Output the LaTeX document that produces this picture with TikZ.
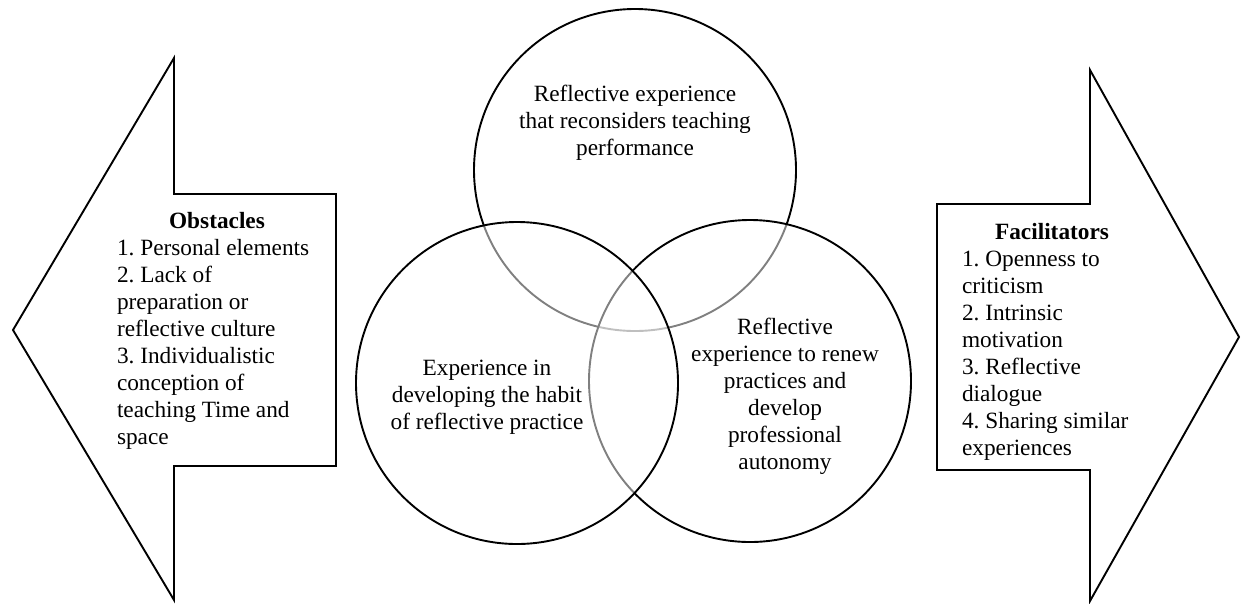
\documentclass[tikz,border=0pt]{standalone}
\usepackage{fontspec}
\setmainfont{Liberation Serif}
\tikzset{
  venn/.style={draw, circle, minimum size=322pt, inner sep=0pt, line width=1.9pt, fill=white, fill opacity=0.5},
  bigarrow/.style={draw, line width=1.9pt, line join=miter},
  venntext/.style={align=center, inner sep=0pt, font=\fontsize{23.3}{27}\selectfont\frenchspacing},
  listtext/.style={align=flush left, inner sep=0pt, font=\fontsize{23.3}{27}\selectfont\frenchspacing},
}
\begin{document}
\begin{tikzpicture}[x=1pt, y=-1pt]
    \useasboundingbox (0,0) rectangle (1241,603);

    % left arrow (obstacles)
    \draw[bigarrow] (336,194) -- (174,194) -- (174,58) -- (13,330) -- (174,600) -- (174,466) -- (336,466) -- cycle;
    % right arrow (facilitators)
    \draw[bigarrow] (937,204) -- (1090,204) -- (1090,70) -- (1239,337) -- (1090,601) -- (1090,470) -- (937,470) -- cycle;

    % the three circles, top first, left last
    \node[venn] at (635,170) (T) {};
    \node[venn] at (750,381) (R) {};
    \node[venn] at (517,383) (L) {};

    \node[venntext] at (635,123) (Ttext) {Reflective experience\\that reconsiders teaching\\performance};
    \node[venntext] at (487,397) (Ltext) {Experience in\\developing the habit\\of reflective practice};
    \node[venntext] at (785,396) (Rtext) {Reflective\\experience to renew\\practices and\\develop\\professional\\autonomy};

    \node[listtext, text width=200pt] at (217,331) (obst) {\hfill\textbf{Obstacles}\hfill\null\\1. Personal elements\\2. Lack of\\preparation or\\reflective culture\\3. Individualistic\\conception of\\teaching Time and\\space};
    \node[listtext, text width=180pt] at (1052,342) (facil) {\hfill\textbf{Facilitators}\hfill\null\\1. Openness to\\criticism\\2. Intrinsic\\motivation\\3. Reflective\\dialogue\\4. Sharing similar\\experiences};

\end{tikzpicture}
\end{document}
